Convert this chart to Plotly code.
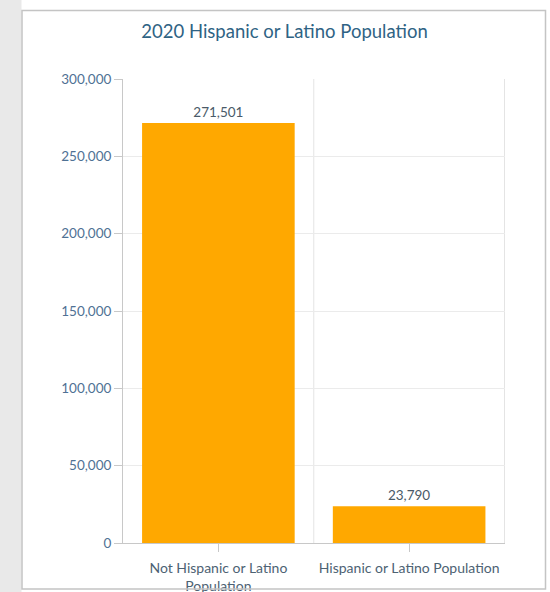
import plotly.graph_objects as go

categories = ["Not Hispanic or Latino Population", "Hispanic or Latino Population"]
tick_labels = ["Not Hispanic or Latino<br>Population", "Hispanic or Latino Population"]
values = [271501, 23790]
value_labels = ["271,501", "23,790"]

W, H = 550, 592
L, R, T, B = 123, 45, 79, 49
pw, ph = W - L - R, H - T - B
def px(xp): return (xp - L) / pw
def py(yp): return (H - B - yp) / ph

label_color = "#4d6273"
fig = go.Figure(go.Bar(
    x=categories, y=values,
    marker=dict(color="#FFA800", line=dict(width=0)),
    text=value_labels, textposition="outside", cliponaxis=False,
    textfont=dict(family="Lato", size=13.5, color="#4a5a68"),
    width=0.8,
))

shapes = [
    # left grey strip
    dict(type="rect", xref="paper", yref="paper", x0=px(-5), x1=px(21.5),
         y0=py(600), y1=py(-10), fillcolor="#e9e9e9", line=dict(width=0), layer="below"),
    # vertical gridlines at category boundary and right edge
    dict(type="line", xref="x", yref="paper", x0=0.5, x1=0.5, y0=0, y1=1,
         line=dict(color="#e4e4e4", width=1), layer="below"),
    dict(type="line", xref="x", yref="paper", x0=1.5, x1=1.5, y0=0, y1=1,
         line=dict(color="#e4e4e4", width=1), layer="below"),
    # panel frame
    dict(type="rect", xref="paper", yref="paper", x0=px(22), x1=px(545.5),
         y0=py(589), y1=py(10.5), line=dict(color="#c4c4c4", width=1.5),
         fillcolor="rgba(0,0,0,0)", layer="above"),
]

fig.update_layout(
    width=W, height=H,
    paper_bgcolor="white", plot_bgcolor="white",
    margin=dict(l=L, r=R, t=T, b=B, autoexpand=False),
    showlegend=False,
    title=dict(text="2020 Hispanic or Latino Population", x=px(284.5), xref="paper",
               xanchor="center", y=1 - 32 / H, yanchor="middle",
               font=dict(family="Lato", size=18.5, color="#2f6384")),
    font=dict(family="Lato", size=13, color=label_color),
    xaxis=dict(
        tickmode="array", tickvals=categories, ticktext=tick_labels,
        showgrid=False, showline=True, linecolor="#c8c8c8", linewidth=1,
        ticks="outside", ticklen=8, tickcolor="#c8c8c8",
        ticklabelstandoff=4, automargin=False,
        tickfont=dict(family="Lato", size=14, color=label_color),
    ),
    yaxis=dict(
        range=[0, 300000], dtick=50000, tickformat=",",
        showgrid=True, gridcolor="#ebebeb", gridwidth=1,
        showline=True, linecolor="#c8c8c8", linewidth=1,
        ticks="outside", ticklen=8, tickcolor="#c8c8c8",
        zeroline=False, automargin=False,
        tickfont=dict(family="Lato", size=13.5, color="#4f7194"),
    ),
    shapes=shapes,
)

fig.write_html("out.html")
